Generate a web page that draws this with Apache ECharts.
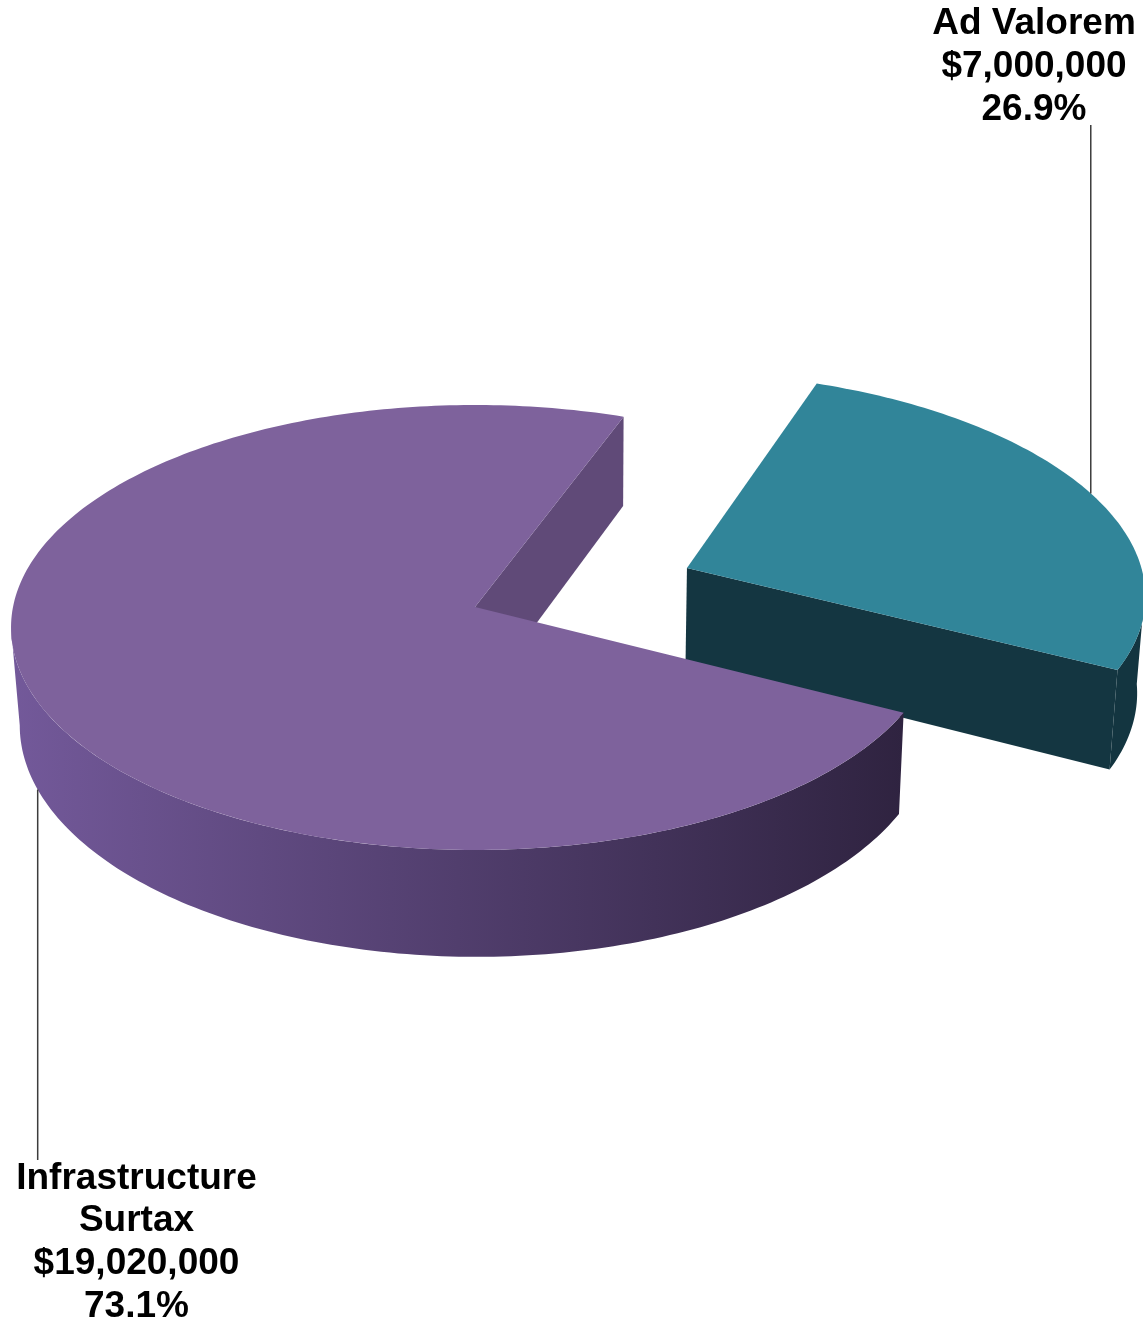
<!DOCTYPE html>
<html>
<head>
<meta charset="utf-8">
<script src="https://cdn.jsdelivr.net/npm/echarts@6/dist/echarts.min.js"></script>
<style>
  html, body { margin: 0; padding: 0; background: #ffffff; }
  #chart { width: 1143px; height: 1325px; }
</style>
</head>
<body>
<div id="chart"></div>
<script>
// Revenue sources
const categories = ['Ad Valorem', 'Infrastructure\nSurtax'];
const amounts = [7000000, 19020000];
const exploded = [0.5, 0];            // radial pull-out, as a fraction of the radius

// Colours: top face, cut face, outer wall
const topColors = ['#318599', '#7E629C'];
const cutColors = ['#143641', '#604A78'];
const wallColors = [
  ['#133540', '#133540'],
  ['#73599A', '#2F2340']
];

// Label placement: centre x, and the y of the label edge nearest the pie
const labelPlaces = [
  { x: 1034, y: 131, side: 'above' },
  { x: 136.5, y: 1157, side: 'below' }
];

// 3D pie geometry
const GEO = {
  cx: 475, cy: 607,     // projected pie centre
  rx: 462, ry: 220.6,   // projected radii
  persp: 0.0921,        // foreshortening of the far side
  depth: 97,            // thickness
  vx: 592, shrink: 0.985,
  startAngle: -27.3     // degrees, counter-clockwise from 3 o'clock
};

const total = amounts.reduce((a, b) => a + b, 0);
const rad = d => d * Math.PI / 180;

// angular span of each slice
const spans = [];
(function () {
  let a = GEO.startAngle;
  amounts.forEach(v => {
    const sweep = v / total * 360;
    spans.push([a, a + sweep]);
    a += sweep;
  });
})();

function offsetOf(i) {
  const mid = rad((spans[i][0] + spans[i][1]) / 2);
  return [exploded[i] * Math.cos(mid), exploded[i] * Math.sin(mid)];
}

// world (X along width, G toward the back, unit radius) -> screen
function proj(X, G, bottom) {
  const w = 1 + GEO.persp * G;
  let sx = GEO.cx + GEO.rx * X / w;
  let sy = GEO.cy - GEO.ry * G / w;
  if (bottom) {
    sx = GEO.vx + (sx - GEO.vx) * GEO.shrink;
    sy += GEO.depth / w;
  }
  return [sx, sy];
}

function rim(i, deg, bottom) {
  const o = offsetOf(i);
  return proj(o[0] + Math.cos(rad(deg)), o[1] + Math.sin(rad(deg)), bottom);
}
function apex(i, bottom) {
  const o = offsetOf(i);
  return proj(o[0], o[1], bottom);
}
function arc(i, a, b, bottom) {
  const n = Math.max(2, Math.ceil(Math.abs(b - a)));
  const pts = [];
  for (let k = 0; k <= n; k++) pts.push(rim(i, a + (b - a) * k / n, bottom));
  return pts;
}

// front half of the outer wall (visible between the two silhouettes)
const silh = Math.asin(GEO.persp) * 180 / Math.PI;
function frontRange(a, b) {
  for (let s = -1; s <= 1; s++) {
    const lo = Math.max(a, 180 + silh + 360 * s);
    const hi = Math.min(b, 360 - silh + 360 * s);
    if (hi > lo) return [lo, hi];
  }
  return null;
}

// far slices are painted first
const order = amounts.map((v, i) => {
  const mid = rad((spans[i][0] + spans[i][1]) / 2);
  return { i, g: Math.sin(mid) + offsetOf(i)[1] };
}).sort((p, q) => q.g - p.g).map(d => d.i);
const rank = [];
order.forEach((i, r) => { rank[i] = r; });

function renderSlice(params, api) {
  const i = params.dataIndex;
  const value = api.value(0);
  const [a, b] = spans[i];
  const base = rank[i] * 10;
  const children = [];

  // radial cut faces turned toward the viewer
  [[a, Math.cos(rad(a)) > 0], [b, Math.cos(rad(b)) < 0]].forEach(([ang, vis]) => {
    if (!vis) return;
    children.push({
      type: 'polygon', z2: base + 1,
      shape: { points: [apex(i, false), rim(i, ang, false), rim(i, ang, true), apex(i, true)] },
      style: { fill: cutColors[i] }
    });
  });

  // outer wall
  const fr = frontRange(a, b);
  if (fr) {
    const pts = arc(i, fr[0], fr[1], false).concat(arc(i, fr[0], fr[1], true).reverse());
    children.push({
      type: 'polygon', z2: base + 2,
      shape: { points: pts },
      style: {
        fill: new echarts.graphic.LinearGradient(0, 0, 1, 0, [
          { offset: 0, color: wallColors[i][0] },
          { offset: 1, color: wallColors[i][1] }
        ])
      }
    });
  }

  // top face
  children.push({
    type: 'polygon', z2: base + 3,
    shape: { points: [apex(i, false)].concat(arc(i, a, b, false)) },
    style: { fill: topColors[i] }
  });

  // leader line and label
  const midDeg = (a + b) / 2;
  const front = Math.sin(rad(midDeg)) < 0;
  const anchor = rim(i, midDeg, front);
  const lp = labelPlaces[i];
  const lineEnd = lp.side === 'above' ? lp.y - 6 : lp.y + 3;
  children.push({
    type: 'line', z2: 100,
    shape: { x1: anchor[0], y1: anchor[1], x2: anchor[0], y2: lineEnd },
    style: { stroke: '#3C3C3C', lineWidth: 1.5 }
  });
  const pct = (value / total * 100).toFixed(1) + '%';
  children.push({
    type: 'text', z2: 101,
    x: lp.x, y: lp.y,
    style: {
      text: categories[i] + '\n$' + value.toLocaleString('en-US') + '\n' + pct,
      font: 'bold 37px "Liberation Sans", Arial, sans-serif',
      lineHeight: 42.7,
      fill: '#000000',
      align: 'center',
      verticalAlign: lp.side === 'above' ? 'bottom' : 'top'
    }
  });

  return { type: 'group', children };
}

const chart = echarts.init(document.getElementById('chart'), null, { renderer: 'canvas' });
chart.setOption({
  backgroundColor: '#ffffff',
  animation: false,
  series: [{
    type: 'custom',
    coordinateSystem: 'none',
    renderItem: renderSlice,
    data: amounts.map((v, i) => ({ name: categories[i], value: [v] }))
  }]
});
</script>
</body>
</html>
